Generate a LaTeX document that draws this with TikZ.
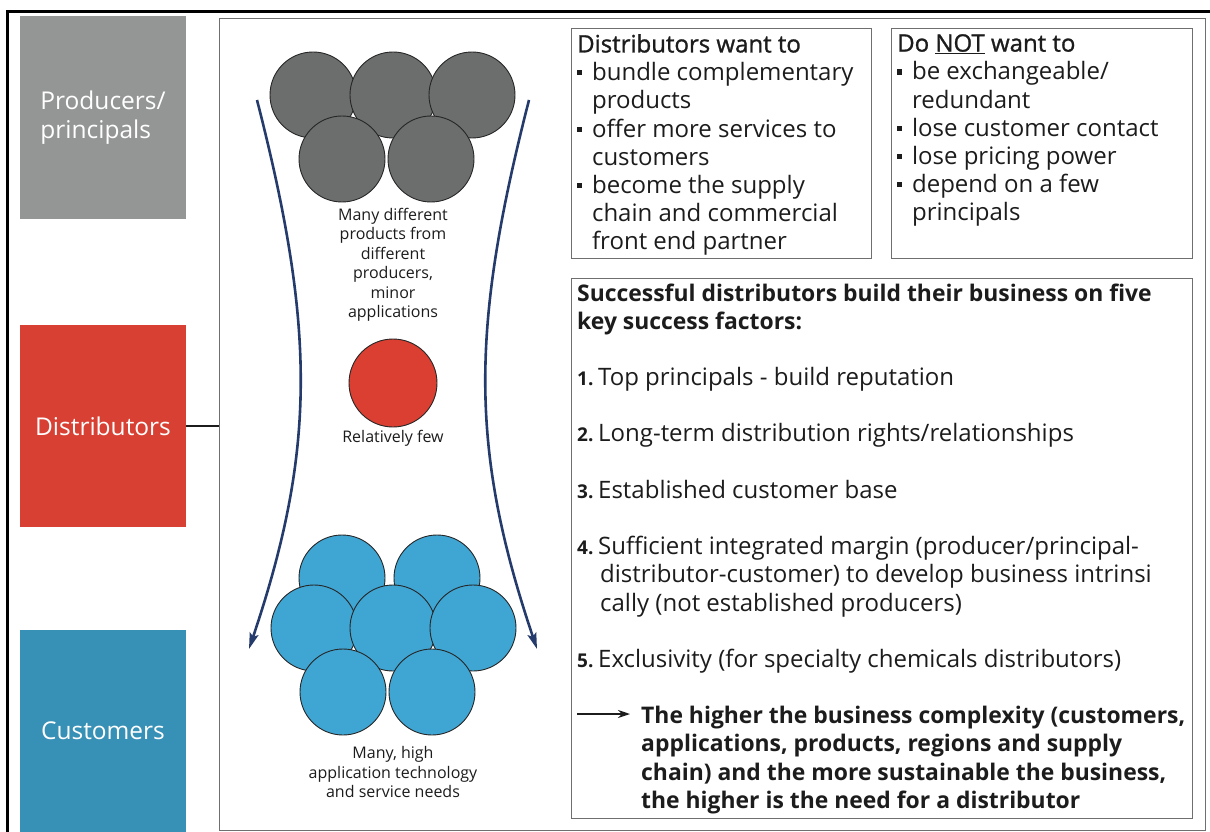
\documentclass[tikz,border=0pt]{standalone}
\usepackage{fontspec}
\setmainfont{Open Sans}
\newfontfamily\headfont[FakeBold=1.2]{Open Sans}
\usetikzlibrary{arrows.meta,positioning}

\definecolor{prodgrey}{HTML}{949695}
\definecolor{distred}{HTML}{D94034}
\definecolor{custblue}{HTML}{3790B5}
\definecolor{ballgrey}{HTML}{6B6E6C}
\definecolor{ballred}{HTML}{DA3F31}
\definecolor{ballblue}{HTML}{3FA5D3}
\definecolor{funnelnavy}{HTML}{243B6C}
\definecolor{framegrey}{HTML}{6F6F6F}
\definecolor{ink}{HTML}{1C1C1C}

% small square bullet and the gap under it
\newcommand{\sqb}{\raisebox{0.4ex}{\rule{0.22em}{0.22em}}\hspace{0.4em}}
\newcommand{\sqgap}{\hspace*{0.62em}}
% numbered factor
\newcommand{\factorno}[1]{\makebox[21pt][l]{\fontsize{19}{28.2}\selectfont\bfseries #1}}
\newcommand{\factorgap}{\hspace*{23pt}}

\tikzset{
  level/.style={minimum width=166pt, minimum height=202pt, inner sep=0pt,
    text=white, font=\fontsize{24.5}{29}\selectfont, align=left},
  ball/.style={circle, draw=black!85, line width=0.9pt, minimum size=86pt, inner sep=0pt},
  smalltxt/.style={text=ink, font=\fontsize{16}{19.5}\selectfont, align=center},
  textbox/.style={draw=framegrey, line width=1.3pt, anchor=north west, inner sep=0pt},
  boxtxt/.style={anchor=north west, inner sep=0pt, align=left, text=ink,
    font=\fontsize{24}{28.2}\selectfont},
  boldtxt/.style={boxtxt, font=\fontsize{22.9}{28.2}\selectfont\bfseries},
  funnelarrow/.style={draw=funnelnavy, line width=2.6pt,
    -{Stealth[length=16pt,width=9pt,inset=3pt]}},
}

\begin{document}
\begin{tikzpicture}[x=1pt,y=-1pt]
  \useasboundingbox (0,0) rectangle (1210,832);

  % outer frame, only top and left are visible
  \draw[line width=3pt] (7,832) -- (7,12) -- (1210,12);

  % value chain levels
  \node[level, fill=prodgrey] (prod) at (103,117.5) {Producers/\\principals};
  \node[level, fill=distred] (distr) at (103,426) {Distributors};
  \node[level, fill=custblue] (cust) at (103,731) {Customers};

  % main panel
  \node[textbox, line width=1.2pt, minimum width=986pt, minimum height=812pt] (panel) at (219,18) {};
  \draw[line width=1.3pt, ink] (distr.east) -- (distr.east -| panel.west);

  % funnel
  \coordinate (ltop) at (257,100);
  \coordinate (lend) at (249,649);
  \coordinate (rtop) at (529,100);
  \coordinate (rend) at (537,649);
  \draw[funnelarrow] (ltop) .. controls (316,330) and (316,450) .. (lend);
  \draw[funnelarrow] (rtop) .. controls (470,330) and (470,450) .. (rend);

  % producers
  \draw
    (313,95) node[ball, fill=ballgrey] (p1){}
    (393,95) node[ball, fill=ballgrey] (p2){}
    (472,95) node[ball, fill=ballgrey] (p3){}
    (342,159) node[ball, fill=ballgrey] (p4){}
    (431,159) node[ball, fill=ballgrey] (p5){};
  \node[smalltxt] (plabel) at (393,265)
    {Many different\\products from\\different\\producers,\\minor\\applications};

  % distributors
  \node[ball, fill=ballred, minimum size=88pt] (d1) at (393,383) {};
  \node[smalltxt] (dlabel) at (393,438) {Relatively few};

  % customers
  \draw
    (342,578) node[ball, fill=ballblue] (c1){}
    (437,578) node[ball, fill=ballblue] (c2){}
    (314,628) node[ball, fill=ballblue] (c3){}
    (393,628) node[ball, fill=ballblue] (c4){}
    (473,628) node[ball, fill=ballblue] (c5){}
    (343,692) node[ball, fill=ballblue] (c6){}
    (432,692) node[ball, fill=ballblue] (c7){};
  \node[smalltxt] (clabel) at (393,772)
    {Many, high\\application technology\\and service needs};

  % what distributors want
  \node[textbox, minimum width=300pt, minimum height=230pt] (want) at (571,28) {};
  \node[boxtxt] (wanttxt) at (577,34)
    {{\headfont Distributors want to}\\
     \sqb bundle complementary\\
     \sqgap products\\
     \sqb offer more services to\\
     \sqgap customers\\
     \sqb become the supply\\
     \sqgap chain and commercial\\
     \sqgap front end partner};

  \node[textbox, minimum width=301pt, minimum height=230pt] (notwant) at (891,28) {};
  \node[boxtxt] (notwanttxt) at (897,34)
    {{\headfont Do \underline{NOT} want to}\\
     \sqb be exchangeable/\\
     \sqgap redundant\\
     \sqb lose customer contact\\
     \sqb lose pricing power\\
     \sqb depend on a few\\
     \sqgap principals};

  % key success factors
  \node[textbox, minimum width=621pt, minimum height=540pt] (factors) at (571,278) {};
  \node[boldtxt] (factorhead) at (577,284)
    {Successful distributors build their business on five\\key success factors:};
  \node[boxtxt] (factorlist) at (577,367)
    {\factorno{1.}Top principals - build reputation\\[28.2pt]
     \factorno{2.}Long-term distribution rights/relationships\\[28.2pt]
     \factorno{3.}Established customer base\\[28.2pt]
     \factorno{4.}Sufficient integrated margin (producer/principal-\\
     \factorgap distributor-customer) to develop business intrinsi\\
     \factorgap cally (not established producers)\\[28.2pt]
     \factorno{5.}Exclusivity (for specialty chemicals distributors)};
  \node[boldtxt] (conclusion) at (641,706)
    {The higher the business complexity (customers,\\
     applications, products, regions and supply\\
     chain) and the more sustainable the business,\\
     the higher is the need for a distributor};
  \coordinate (concltail) at (577,714);
  \draw[line width=1.5pt, ink, -{Stealth[length=12pt,width=8pt]}]
    (concltail) -- ([xshift=-11pt]concltail -| conclusion.west);
\end{tikzpicture}
\end{document}
